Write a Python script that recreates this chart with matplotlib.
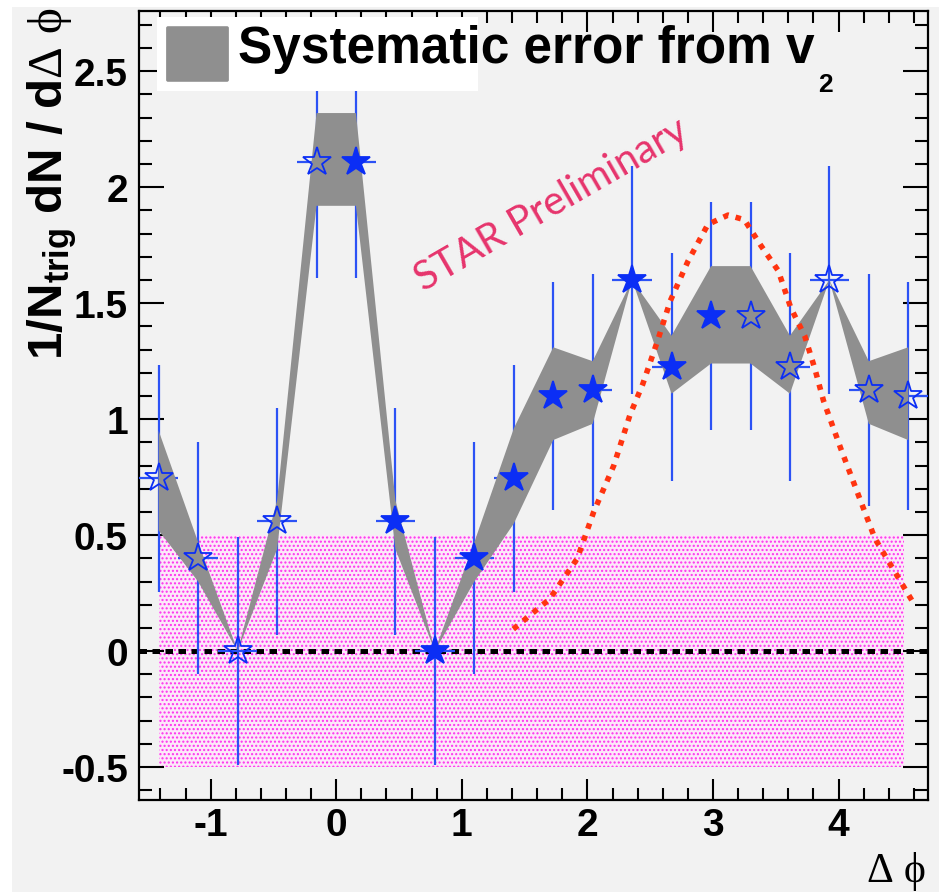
import matplotlib
matplotlib.use('Agg')
import matplotlib.pyplot as plt
from matplotlib.patches import Rectangle, FancyBboxPatch
from matplotlib.ticker import MultipleLocator, FormatStrFormatter

plt.rcParams['font.family'] = ['Liberation Sans', 'DejaVu Sans']
plt.rcParams['axes.unicode_minus'] = False
plt.rcParams['mathtext.fontset'] = 'custom'
plt.rcParams['mathtext.rm'] = 'Liberation Serif'
plt.rcParams['mathtext.it'] = 'Liberation Serif'
plt.rcParams['mathtext.bf'] = 'Liberation Sans:bold'
plt.rcParams['hatch.linewidth'] = 1.0
plt.rcParams['hatch.color'] = '#ff30ee'

# bin centres (delta phi) and per-trigger yields
dphi = [-1.414, -1.100, -0.785, -0.471, -0.157, 0.157, 0.471, 0.785, 1.100, 1.414,
        1.728, 2.042, 2.356, 2.670, 2.985, 3.299, 3.613, 3.927, 4.241, 4.555]
yld = [0.745, 0.40, 0.0, 0.56, 2.11, 2.11, 0.56, 0.0, 0.40, 0.745,
       1.10, 1.125, 1.60, 1.225, 1.445, 1.445, 1.225, 1.60, 1.125, 1.10]
stat_err = [0.49, 0.50, 0.49, 0.49, 0.50, 0.50, 0.49, 0.49, 0.50, 0.49,
            0.49, 0.50, 0.49, 0.49, 0.49, 0.49, 0.49, 0.49, 0.50, 0.49]
bin_halfwidth = [0.157] * 20
# open markers = reflected points
filled = [False, False, False, False, False, True, True, True, True, True,
          True, True, True, True, True, False, False, False, False, False]

# systematic band from v2 (lower / upper edges)
sys_lo = [0.52, 0.30, 0.0, 0.44, 1.92, 1.92, 0.44, 0.0, 0.30, 0.55,
          0.91, 0.98, 1.60, 1.11, 1.24, 1.24, 1.11, 1.60, 0.98, 0.91]
sys_hi = [0.95, 0.47, 0.0, 0.65, 2.32, 2.32, 0.65, 0.0, 0.47, 0.96,
          1.31, 1.25, 1.60, 1.36, 1.66, 1.66, 1.36, 1.60, 1.25, 1.31]

# ZYAM uncertainty box
zyam_x = [-1.414, 4.52]
zyam_lo, zyam_hi = -0.5, 0.5

# red dotted reference curve
curve_x = [1.41, 1.70, 1.92, 2.05, 2.21, 2.34, 2.44, 2.56, 2.66, 2.80, 2.96, 3.12,
           3.25, 3.38, 3.52, 3.62, 3.73, 3.81, 3.88, 4.02, 4.16, 4.29, 4.45, 4.61]
curve_y = [0.095, 0.225, 0.40, 0.60, 0.80, 1.02, 1.15, 1.34, 1.51, 1.68, 1.84, 1.88,
           1.86, 1.75, 1.64, 1.48, 1.36, 1.22, 1.08, 0.87, 0.67, 0.485, 0.34, 0.195]

W, H = 939, 895
def fx(px):
    return px / W
def fy(py):
    return 1 - py / H

fig = plt.figure(figsize=(W / 100, H / 100), dpi=100, facecolor='white')
fig.patches.append(Rectangle((fx(12), fy(893)), fx(939) - fx(12), fy(8) - fy(893),
                             transform=fig.transFigure, facecolor='#f2f2f2',
                             edgecolor='none', zorder=-5))

ax = fig.add_axes([fx(139), fy(801), fx(928) - fx(139), fy(12) - fy(801)])
ax.set_facecolor('#f2f2f2')
ax.set_xlim(-1.5708, 4.7124)
ax.set_ylim(-0.642, 2.76)

# pink ZYAM box
ax.fill_between(zyam_x, zyam_lo, zyam_hi, facecolor='#fce8f9', edgecolor='#ff30ee',
                hatch='....', linewidth=0, zorder=1)

# zero line
ax.axhline(0, color='black', lw=3.6, ls=(0, (1.5, 1.1)), zorder=2)

# statistical error bars
ax.errorbar(dphi, yld, yerr=stat_err, xerr=bin_halfwidth, fmt='none',
            ecolor='#2c52f5', elinewidth=1.6, capsize=0, zorder=3)

# systematic band
ax.fill_between(dphi, sys_lo, sys_hi, facecolor='#8f8f8f', edgecolor='none', zorder=4)

# reference curve
ax.plot(curve_x, curve_y, color='#ff3410', lw=4, ls=(0, (1, 1.3)), zorder=5)

# markers
for x, y, f in zip(dphi, yld, filled):
    ax.plot(x, y, marker='*', ms=21, mew=1.3, mec='#0b2ef5',
            mfc='#0b2ef5' if f else 'none', ls='none', zorder=6)

ax.xaxis.set_major_locator(MultipleLocator(1))
ax.xaxis.set_minor_locator(MultipleLocator(0.2))
ax.yaxis.set_major_locator(MultipleLocator(0.5))
ax.yaxis.set_minor_locator(MultipleLocator(0.1))
ax.xaxis.set_major_formatter(FormatStrFormatter('%g'))
ax.yaxis.set_major_formatter(FormatStrFormatter('%g'))
ax.tick_params(which='both', direction='in', top=True, right=True, width=1.5, color='black')
ax.tick_params(axis='x', which='major', length=15, pad=5, labelsize=28)
ax.tick_params(axis='x', which='minor', length=8.5)
ax.tick_params(axis='y', which='major', length=18, pad=8, labelsize=28)
ax.tick_params(axis='y', which='minor', length=9.5)
for lab in ax.get_xticklabels() + ax.get_yticklabels():
    lab.set_fontweight('bold')
for sp in ax.spines.values():
    sp.set_linewidth(1.6)

# legend box drawn by hand
fig.patches.append(Rectangle((fx(157), fy(92)), fx(478) - fx(157), fy(18) - fy(92),
                             transform=fig.transFigure, facecolor='white',
                             edgecolor='none', zorder=10))
fig.patches.append(FancyBboxPatch((fx(168), fy(81)), fx(227) - fx(168), fy(29) - fy(81),
                                  boxstyle='round,pad=0.002', transform=fig.transFigure,
                                  facecolor='#8f8f8f', edgecolor='none', zorder=11))
fig.text(fx(238), fy(63), 'Systematic error from v', fontsize=37, fontweight='bold',
         ha='left', va='baseline', zorder=12)
fig.text(fx(818), fy(92), '2', fontsize=19, fontweight='bold', ha='left', va='baseline',
         zorder=12)

# axis titles
fig.text(fx(25), fy(8), r'$\mathbf{1/N_{trig}\ dN\ /\ d}\Delta\ \phi$', rotation=90,
         fontsize=35.5, ha='left', va='top')
fig.text(fx(926), fy(893), r'$\Delta\ \phi$', fontsize=30, ha='right', va='bottom')

ax.text(1.71, 1.93, 'STAR Preliminary', rotation=30, fontsize=29,
        family=['Lato', 'DejaVu Sans'], color='#e6346c',
        ha='center', va='center', zorder=7)

fig.savefig('out.png', dpi=100, facecolor=fig.get_facecolor())
